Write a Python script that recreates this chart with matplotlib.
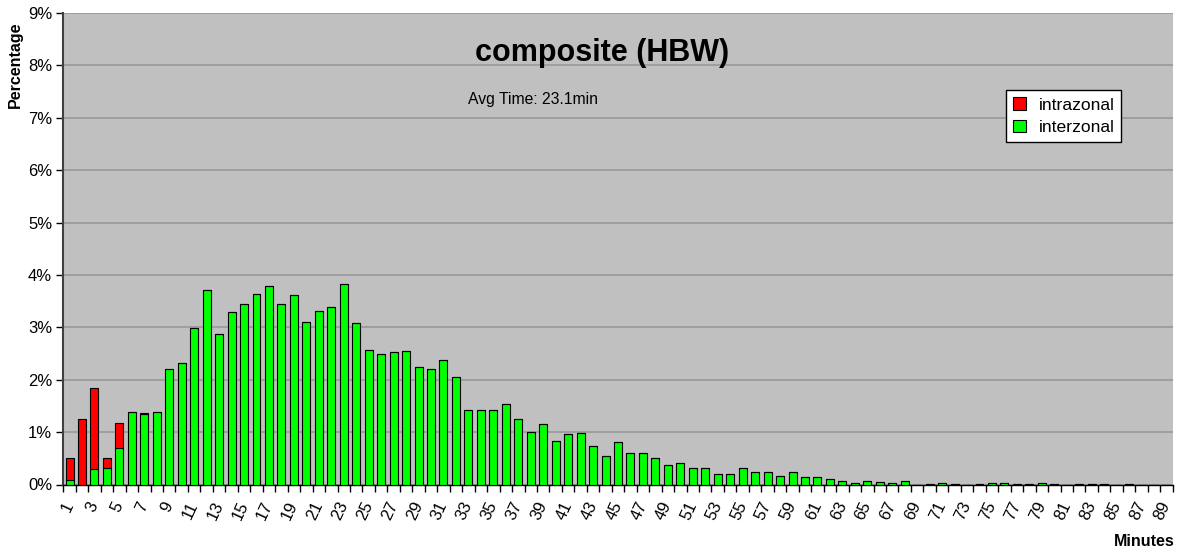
import numpy as np
import matplotlib
matplotlib.use('Agg')
from matplotlib import pyplot as plt
from matplotlib.patches import Patch

plt.rcParams['font.family'] = ['Liberation Sans', 'DejaVu Sans']

# trip length distribution, percent of trips per minute
minutes = list(range(1, 90))
intrazonal = [0.405, 1.245, 1.54, 0.18, 0.48, 0.0, 0.02] + [0.0] * 82
interzonal = [0.095, 0.0, 0.30, 0.32, 0.69, 1.38, 1.34, 1.38, 2.20, 2.31,
              2.98, 3.71, 2.88, 3.29, 3.44, 3.63, 3.78, 3.44, 3.61, 3.11,
              3.32, 3.39, 3.82, 3.08, 2.57, 2.50, 2.52, 2.54, 2.25, 2.20,
              2.37, 2.05, 1.42, 1.43, 1.43, 1.53, 1.25, 1.00, 1.15, 0.83,
              0.96, 0.98, 0.73, 0.54, 0.81, 0.60, 0.60, 0.50, 0.37, 0.41,
              0.31, 0.31, 0.20, 0.20, 0.31, 0.23, 0.23, 0.17, 0.23, 0.14,
              0.15, 0.11, 0.07, 0.035, 0.076, 0.05, 0.03, 0.076, 0.0, 0.013,
              0.03, 0.013, 0.0, 0.013, 0.03, 0.03, 0.013, 0.013, 0.035, 0.013,
              0.0, 0.013, 0.013, 0.013, 0.0, 0.013, 0.0, 0.0, 0.0]
yticks = list(range(0, 10))
title = 'composite (HBW)'
avg_text = 'Avg Time: 23.1min'

W, H = 1185, 552
fig = plt.figure(figsize=(W / 100, H / 100), dpi=100)
fig.patch.set_facecolor('white')

left, right, top, bottom = 63.3, 1172.7, 13, 484.5
ax = fig.add_axes([left / W, 1 - bottom / H, (right - left) / W, (bottom - top) / H])
ax.set_facecolor('#C0C0C0')

x = np.array(minutes)
green = np.array(interzonal)
red = np.array(intrazonal)
ax.bar(x, green, width=0.64, color='#00FF00', edgecolor='black', linewidth=0.8, zorder=3)
ax.bar(x, red, width=0.64, bottom=green, color='#FF0000', edgecolor='black', linewidth=0.8, zorder=3)

ax.set_xlim(0.5, len(minutes) + 0.5)
ax.set_ylim(0, 9)

# y axis
ax.set_yticks(yticks)
ax.set_yticklabels(['%d%%' % v for v in yticks], fontsize=12)
ax.yaxis.grid(True, color='#9C9C9C', linewidth=1.3, zorder=0)
ax.set_axisbelow(True)
ax.tick_params(axis='y', direction='out', length=5, width=1, color='black', pad=3)

# x axis: tick marks at boundaries, labels at odd minutes
ax.set_xticks(np.arange(0.5, len(minutes) + 1, 1.0))
ax.set_xticklabels([])
ax.tick_params(axis='x', which='major', direction='out', length=5, width=1, color='black')
ax.set_xticks(x[::2], minor=True)
ax.set_xticklabels([str(m) for m in minutes[::2]], minor=True, rotation=65,
                   ha='right', va='center', rotation_mode='anchor', fontsize=12)
ax.tick_params(axis='x', which='minor', length=0, pad=13)

for s in ['top', 'right']:
    ax.spines[s].set_visible(False)
ax.spines['left'].set_color('#404040')
ax.spines['left'].set_linewidth(1.5)
ax.spines['bottom'].set_color('black')
ax.spines['bottom'].set_linewidth(1.0)

fig.text(602 / W, 1 - 53 / H, title, fontsize=22, fontweight='bold', ha='center', va='center')
fig.text(468 / W, 1 - 99.5 / H, avg_text, fontsize=11.3, ha='left', va='center')
fig.text(15 / W, 1 - 65 / H, 'Percentage', fontsize=11.5, fontweight='bold', rotation=90,
         ha='center', va='center')
fig.text(1175 / W, 1 - 541 / H, 'Minutes', fontsize=11.5, fontweight='bold', ha='right', va='center')

handles = [Patch(facecolor='#FF0000', edgecolor='black', linewidth=0.8, label='intrazonal'),
           Patch(facecolor='#00FF00', edgecolor='black', linewidth=0.8, label='interzonal')]
leg = ax.legend(handles=handles, loc='upper left', bbox_to_anchor=(1006 / W, 1 - 90 / H),
                bbox_transform=fig.transFigure, fontsize=12.6, frameon=True, fancybox=False,
                handlelength=0.75, handleheight=0.75, handletextpad=0.7, borderpad=0.4,
                labelspacing=0.4, borderaxespad=0)
leg.get_frame().set_edgecolor('black')
leg.get_frame().set_facecolor('white')
leg.get_frame().set_linewidth(1.0)
leg.get_frame().set_alpha(1)

fig.savefig('out.png', dpi=100)
